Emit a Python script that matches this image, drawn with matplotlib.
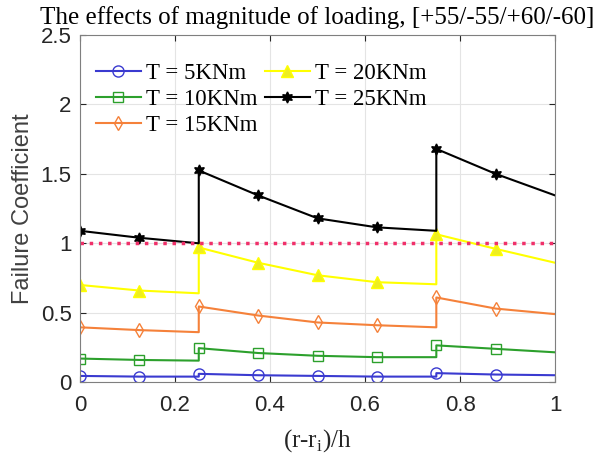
import matplotlib.pyplot as plt
import numpy as np

# normalised radius, with jumps at the ply interfaces 0.25 and 0.75
x = [0, 0.125, 0.25, 0.25, 0.375, 0.5, 0.625, 0.75, 0.75, 0.875, 1.0]
mark_idx = [0, 1, 3, 4, 5, 6, 8, 9]

t5 = [0.045, 0.04, 0.04, 0.06, 0.05, 0.045, 0.04, 0.04, 0.065, 0.055, 0.05]
t10 = [0.17, 0.16, 0.155, 0.245, 0.21, 0.19, 0.18, 0.18, 0.265, 0.24, 0.215]
t15 = [0.395, 0.375, 0.36, 0.545, 0.48, 0.43, 0.41, 0.395, 0.61, 0.53, 0.49]
t20 = [0.70, 0.66, 0.64, 0.97, 0.86, 0.77, 0.72, 0.705, 1.065, 0.96, 0.86]
t25 = [1.09, 1.04, 1.0, 1.525, 1.345, 1.18, 1.115, 1.09, 1.68, 1.50, 1.345]

labels = ["T = 5KNm", "T = 10KNm", "T = 15KNm", "T = 20KNm", "T = 25KNm"]

serif = "Liberation Serif"
sans = "Liberation Sans"

fig = plt.figure(figsize=(6.06, 4.61), dpi=100)
ax = fig.add_axes([0.132, 0.171, 0.784, 0.753])

ax.plot(x, t5, color="#3a3ad0", marker="o", ms=8, mfc="none", lw=1.5, markevery=mark_idx, label=labels[0])
ax.plot(x, t10, color="#2ca02c", marker="s", ms=6.5, mfc="none", lw=1.5, markevery=mark_idx, label=labels[1])
ax.plot(x, t15, color="#f5813a", marker="d", ms=7.5, mfc="none", lw=1.5, markevery=mark_idx, label=labels[2])
ax.plot(x, t20, color="#ffff00", marker="^", ms=8.5, mfc="#eeee20", lw=1.5, markevery=mark_idx, label=labels[3])
ax.plot(x, t25, color="black", marker=(6, 1, 0), ms=8, lw=1.5, markevery=mark_idx, label=labels[4])
ax.plot([0, 1], [1, 1], color="#f0306a", ls=":", lw=2.5)

ax.set_xlim(0, 1)
ax.set_ylim(0, 2.5)
ax.set_xticks(np.arange(0, 1.01, 0.2))
ax.set_xticklabels(["0", "0.2", "0.4", "0.6", "0.8", "1"])
ax.set_yticks(np.arange(0, 2.51, 0.5))
ax.set_yticklabels(["0", "0.5", "1", "1.5", "2", "2.5"])
ax.grid(True, color="#e4e4e4", lw=0.8)
ax.set_axisbelow(True)
ax.tick_params(direction="in", top=True, right=True, labelsize=16, colors="#262626", length=4)
ax.tick_params(axis="x", pad=9)
ax.tick_params(axis="y", pad=6)
for lab in ax.get_xticklabels() + ax.get_yticklabels():
    lab.set_family(sans)
for s in ax.spines.values():
    s.set_color("#7f7f7f")

ax.set_xlabel("(r-r$_\\mathregular{i}$)/h", family=serif, fontsize=18, color="#262626", labelpad=8)
ax.set_ylabel("Failure Coefficient", family=sans, fontsize=17, color="#404040", labelpad=5)
ax.set_title("The effects of magnitude of loading, [+55/-55/+60/-60]", family=serif, fontsize=18, pad=8)

ax.legend(ncol=2, loc="upper left", bbox_to_anchor=(0.0, 0.965), frameon=False,
          prop={"family": serif, "size": 16.5},
          handlelength=1.95, handletextpad=0.25, columnspacing=0.3, labelspacing=0.22,
          borderaxespad=0.3)

fig.savefig("out.png", dpi=100)
